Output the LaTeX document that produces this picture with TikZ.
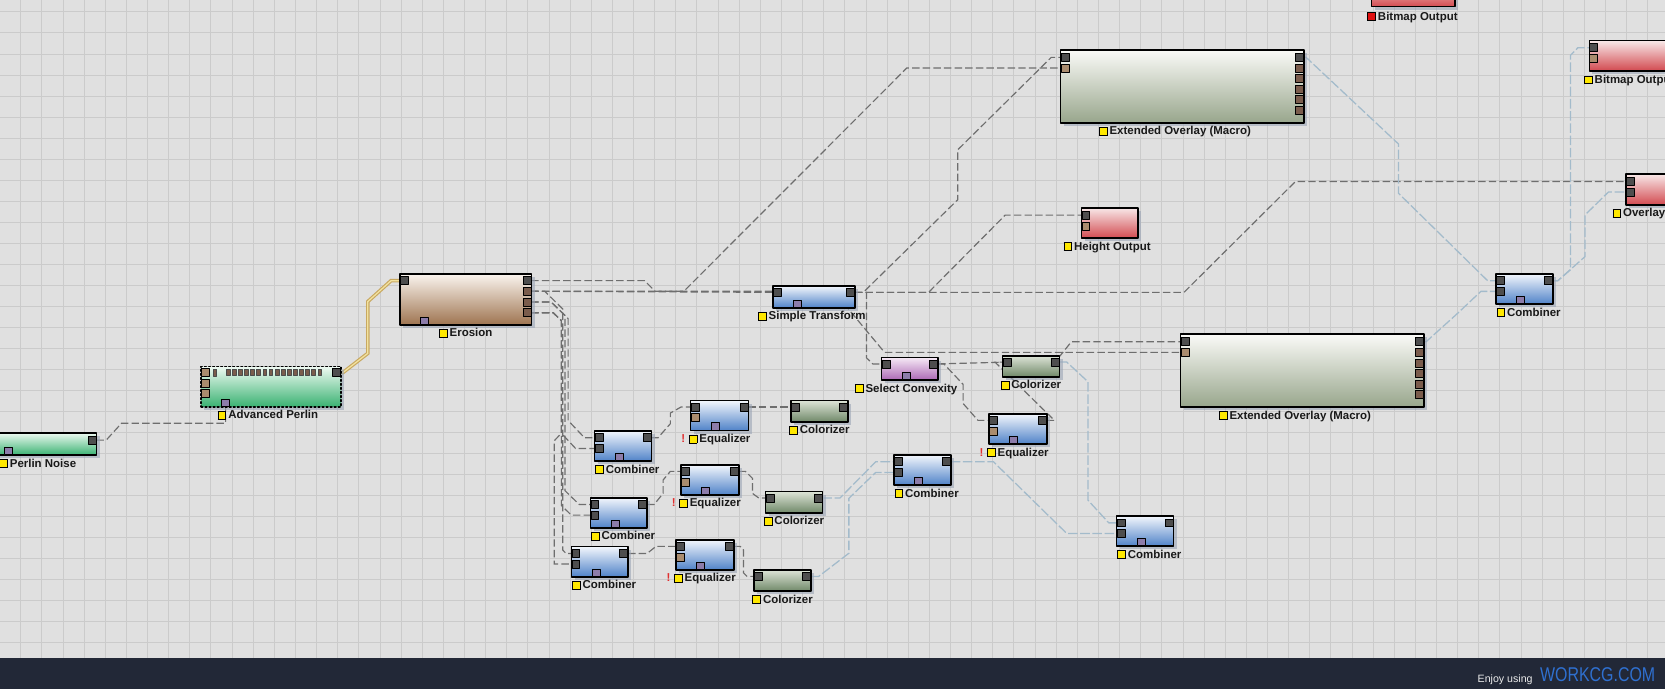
\documentclass[tikz,border=0pt]{standalone}
\usepackage{fontspec}
\setmainfont{Liberation Sans}
\usetikzlibrary{calc,shadows}

\definecolor{canvas}{HTML}{E0E0E0}
\definecolor{gridline}{HTML}{CBCBCB}
\definecolor{barblue}{HTML}{222837}
\definecolor{wiregray}{HTML}{6E6E6E}
\definecolor{wireblue}{HTML}{A3BBCB}
\definecolor{wiretan}{HTML}{C8A860}
\definecolor{wireyellow}{HTML}{F2E2A0}
\definecolor{bluetop}{HTML}{F2F6FC}
\definecolor{bluebot}{HTML}{4F82C8}
\definecolor{sagetop}{HTML}{DCE3D6}
\definecolor{sagebot}{HTML}{6F8868}
\definecolor{macrotop}{HTML}{FAFAF7}
\definecolor{macrobot}{HTML}{98A68C}
\definecolor{redtop}{HTML}{F8E8E8}
\definecolor{redbot}{HTML}{D24A50}
\definecolor{browntop}{HTML}{FAF4EE}
\definecolor{brownbot}{HTML}{9E7450}
\definecolor{mauvetop}{HTML}{F6EAF6}
\definecolor{mauvebot}{HTML}{AC68B4}
\definecolor{greentop}{HTML}{EEFAF2}
\definecolor{greenbot}{HTML}{3AB272}
\definecolor{portdark}{HTML}{4E4E4E}
\definecolor{portbrown}{HTML}{7A5C4C}
\definecolor{porttan}{HTML}{AA8C6E}
\definecolor{portmauve}{HTML}{8C7CAA}
\definecolor{lblyellow}{HTML}{FFE800}
\definecolor{lblred}{HTML}{E01010}
\definecolor{warnred}{HTML}{E03030}
\definecolor{shadowc}{HTML}{9AA4B6}
\definecolor{webblue}{HTML}{2F70D0}

\pgfdeclarelayer{grid}
\pgfdeclarelayer{wires}
\pgfsetlayers{grid,wires,main}

% ports and captions of a block
\newcommand{\inport}[4]{\node[port, fill=#4] (#1-#2) at ($(#1.north west)+(4.2,#3)$) {};}
\newcommand{\outport}[4]{\node[port, fill=#4] (#1-#2) at ($(#1.north east)+(-4.2,#3)$) {};}
\newcommand{\botport}[2]{\node[bport] (#1-b) at ($(#1.south west)+(#2,0)$) {};}
\newcommand{\ysq}[1]{{\setlength{\fboxsep}{0pt}\setlength{\fboxrule}{0.9pt}\fcolorbox{black}{#1}{\rule{0pt}{6.6pt}\rule{6.4pt}{0pt}}}}
\newcommand{\nlabel}[3][0]{\node[lbl] (#2-l) at ($(#2.south)+(#1,3.3)$) {\ysq{lblyellow}\,#3};}
\newcommand{\warn}[1]{\node[anchor=base east, inner sep=0pt, text=warnred, font=\bfseries\fontsize{10.8}{13}\selectfont] at ($(#1-l.base west)+(-3,0)$) {!};}

\begin{document}
\begin{tikzpicture}[x=1pt, y=-1pt, line cap=round, line join=round,
    box/.style={draw=black, line width=1.5pt, inner sep=0pt, outer sep=0pt, anchor=north west,
      drop shadow={shadow xshift=3pt, shadow yshift=-3pt, fill=shadowc, opacity=0.6}},
    bluebox/.style={box, top color=bluetop, bottom color=bluebot},
    sagebox/.style={box, top color=sagetop, bottom color=sagebot},
    macrobox/.style={box, top color=macrotop, bottom color=macrobot},
    redbox/.style={box, top color=redtop, bottom color=redbot},
    brownbox/.style={box, top color=browntop, bottom color=brownbot},
    mauvebox/.style={box, top color=mauvetop, bottom color=mauvebot},
    greenbox/.style={box, top color=greentop, bottom color=greenbot},
    selbox/.style={dash pattern=on 1.6pt off 2.2pt},
    port/.style={draw=black, line width=0.7pt, inner sep=0pt, minimum size=7.5pt},
    bport/.style={port, fill=portmauve, anchor=south west, minimum height=7pt},
    lbl/.style={inner sep=0pt, anchor=north, text=black!90, font=\bfseries\fontsize{10.8}{13}\selectfont},
    wire/.style={draw=wiregray, line width=1.1pt, dash pattern=on 7pt off 3pt},
    cwire/.style={draw=wireblue, line width=1.2pt, dash pattern=on 9pt off 2.5pt}]

  \useasboundingbox (0,0) rectangle (1568,649);

  \begin{pgfonlayer}{grid}
    \fill[canvas] (0,0) rectangle (1568,649);
    \foreach \i in {0,...,79}
      \draw[gridline, line width=0.8pt] ({\i*19.9-0.4},0) -- ({\i*19.9-0.4},620);
    \foreach \j in {0,...,31}
      \draw[gridline, line width=0.8pt] (0,{11.2+\j*19.8}) -- (1568,{11.2+\j*19.8});
  \end{pgfonlayer}

  % sources
  \node[greenbox, minimum width=111pt, minimum height=21pt] (perlin) at (-20,407.5) {};
  \outport{perlin}{out1}{7}{portdark}
  \botport{perlin}{23.4}
  \nlabel{perlin}{Perlin Noise}

  \node[greenbox, selbox, minimum width=131.8pt, minimum height=37.7pt] (advperlin) at (189.4,345.3) {};
  \fill[portbrown, draw=black!70, line width=0.3pt] ($(advperlin.north west)+(11.5,2.2)$) rectangle +(3,6.5);
  \foreach \k in {0,...,15}
    \fill[portbrown, draw=black!70, line width=0.3pt] ($(advperlin.north west)+({23.5+\k*5.75},2.2)$) rectangle +(3.6,5.5);
  \inport{advperlin}{in1}{5.7}{porttan}
  \inport{advperlin}{in2}{15.7}{porttan}
  \inport{advperlin}{in3}{25.1}{porttan}
  \outport{advperlin}{out1}{5.5}{portdark}
  \botport{advperlin}{19}
  \nlabel[-3]{advperlin}{Advanced Perlin}

  \node[brownbox, minimum width=123.7pt, minimum height=48pt] (erosion) at (376.7,258) {};
  \inport{erosion}{in1}{6.3}{portdark}
  \outport{erosion}{out1}{6.3}{portdark}
  \outport{erosion}{out2}{16.3}{portbrown}
  \outport{erosion}{out3}{26.4}{portbrown}
  \outport{erosion}{out4}{36.5}{portbrown}
  \botport{erosion}{18.5}
  \nlabel{erosion}{Erosion}

  \node[bluebox, minimum width=77.4pt, minimum height=20.5pt] (simtrans) at (727.8,269.3) {};
  \inport{simtrans}{in1}{6}{portdark}
  \outport{simtrans}{out1}{6}{portdark}
  \botport{simtrans}{19}
  \nlabel[-2]{simtrans}{Simple Transform}

  \node[mauvebox, minimum width=53.3pt, minimum height=21.4pt] (selconv) at (830.3,336.5) {};
  \inport{selconv}{in1}{6.3}{portdark}
  \outport{selconv}{out1}{6.3}{portdark}
  \botport{selconv}{19}
  \nlabel[-3.6]{selconv}{Select Convexity}

  \foreach \n/\x/\y in {comb1/560/405.9, comb2/556/468.7, comb3/538.1/514.8,
                        combM/841.9/428.5, combB/1051.6/486, combR/1408.8/258}{
    \node[bluebox, minimum width=53.5pt, minimum height=28.4pt] (\n) at (\x,\y) {};
    \inport{\n}{in1}{6.4}{portdark}
    \inport{\n}{in2}{16.4}{portdark}
    \outport{\n}{out1}{6.4}{portdark}
    \botport{\n}{19}
    \nlabel[4]{\n}{Combiner}
  }

  \foreach \n/\x/\y in {eq1/650.4/377.3, eq2/641.4/437.9, eq3/636.6/508.5, eqT/931.3/389.9}{
    \node[bluebox, minimum width=54.5pt, minimum height=28.2pt] (\n) at (\x,\y) {};
    \inport{\n}{in1}{6}{portdark}
    \inport{\n}{in2}{16}{porttan}
    \outport{\n}{out1}{6}{portdark}
    \botport{\n}{19}
    \nlabel{\n}{Equalizer}
    \warn{\n}
  }

  \foreach \n/\x/\y in {col1/744.9/377.3, col2/721/463, col3/710.3/536.8, colT/944.2/335}{
    \node[sagebox, minimum width=53.5pt, minimum height=20pt] (\n) at (\x,\y) {};
    \inport{\n}{in1}{6}{portdark}
    \outport{\n}{out1}{6}{portdark}
    \nlabel{\n}{Colorizer}
  }

  \foreach \n/\x/\y in {xov1/998.8/47, xov2/1111.8/314.8}{
    \node[macrobox, minimum width=229.4pt, minimum height=68.6pt] (\n) at (\x,\y) {};
    \inport{\n}{in1}{7}{portdark}
    \inport{\n}{in2}{17}{porttan}
    \outport{\n}{out1}{7}{portdark}
    \foreach \k in {2,...,6}{
      \outport{\n}{out\k}{\k*10-3}{portbrown}
    }
    \nlabel[-7]{\n}{Extended Overlay (Macro)}
  }

  % outputs
  \node[redbox, minimum width=53.1pt, minimum height=28.8pt] (height) at (1018.4,195.6) {};
  \inport{height}{in1}{7}{portdark}
  \inport{height}{in2}{17.5}{porttan}
  \nlabel[-2.4]{height}{Height Output}

  \node[redbox, minimum width=78.3pt, minimum height=26.3pt] (bmpT) at (1291.7,-20) {};
  \node[lbl, anchor=north west] (bmpT-l) at (1287.5,11) {\ysq{lblred}\,Bitmap Output};

  \node[redbox, minimum width=100pt, minimum height=28.3pt] (bmpR) at (1496.7,38.3) {};
  \inport{bmpR}{in1}{6.6}{portdark}
  \inport{bmpR}{in2}{16.6}{porttan}
  \node[lbl, anchor=north west] (bmpR-l) at (1491.6,70.6) {\ysq{lblyellow}\,Bitmap Output};

  \node[redbox, minimum width=80pt, minimum height=29.1pt] (overlay) at (1531,163.9) {};
  \inport{overlay}{in1}{7}{portdark}
  \inport{overlay}{in2}{17}{portdark}
  \node[lbl, anchor=north west] (overlay-l) at (1518.4,196) {\ysq{lblyellow}\,Overlay};

  \begin{pgfonlayer}{wires}
    \draw[wire] (perlin-out1) -- (100,414.5) -- (114.4,398.6) -| (advperlin-b);
    \draw[draw=wiretan, double=wireyellow, double distance=1.2pt, line width=1.1pt]
      (advperlin-out1) -- (323,350.8) -- (346.4,332.7) -- (346.4,284) -- (368.3,264.3) -- (erosion-in1);

    \draw[wire] (erosion-out1) -- (607,264.3) -- (617,274.3) -- (644,274.3) -- (854,64) -- (xov1-in2);
    \draw[wire] (erosion-out2) -- (simtrans-in1);
    \draw[wire] (erosion-out2) -- (785,274.3) -- (833,331.8) -- (xov2-in2);

    % down to the combiners
    \draw[wire] (erosion-out3) -- (519,284.4) -- (535,300) -- (535,396) -- (550.5,412.3) -- (comb1-in1);
    \draw[wire] (erosion-out4) -- (521,294.5) -- (528.7,302) -- (528.7,408) -- (542,422.3) -- (comb1-in2);
    \draw[wire] (erosion-out3) -- (519,284.4) -- (532,297) -- (532,462) -- (545.5,475.1) -- (comb2-in1);
    \draw[wire] (erosion-out4) -- (521,294.5) -- (528.7,302) -- (528.7,476) -- (538,485.1) -- (comb2-in2);
    \draw[wire] (erosion-out2) -- (513,274.3) -- (530,291) -- (530,518) -- (533,521.2) -- (comb3-in1);
    \draw[wire] (erosion-out4) -- (521,294.5) -- (528.7,302) -- (528.7,408) -- (522,415) -- (522,531.2) -- (comb3-in2);

    \draw[wire] (comb1-out1) -- (619.6,412.3) -- (631.3,399) -- (631.3,389) -- (641.3,383.3) -- (eq1-in1);
    \draw[wire] (comb2-out1) -- (616,475.1) -- (624.5,464.6) -- (624.5,452) -- (631.3,443.9) -- (eq2-in1);
    \draw[wire] (comb3-out1) -- (609.4,521.2) -- (617.8,514.5) -- (eq3-in1);

    \draw[wire] (eq1-out1) -- (col1-in1);
    \draw[wire] (eq2-out1) -- (702,443.9) -- (708.6,450.4) -- (708.6,464.6) -- (714.6,469) -- (col2-in1);
    \draw[wire] (eq3-out1) -- (697,514.5) -- (700.2,518) -- (700.2,539.5) -- (703.5,542.8) -- (col3-in1);

    \draw[wire] (simtrans-out1) -- (813,275.3) -- (902,188) -- (902,141) -- (990,54) -- (xov1-in1);
    \draw[wire] (simtrans-out1) -- (874.5,275.3) -- (946.6,202.6) -- (height-in1);
    \draw[wire] (simtrans-out1) -- (1115,275.3) -- (1220,170.9) -- (overlay-in1);
    \draw[wire] (simtrans-out1) -- (816,275.3) -- (816,337) -- (822,342.8) -- (selconv-in1);

    \draw[wire] (selconv-out1) -- (colT-in1);
    \draw[wire] (selconv-out1) -- (889,342.8) -- (907,362) -- (907,380) -- (921,395.9) -- (eqT-in1);
    \draw[wire] (eqT-out1) -- (993,395.9) -- (937,341) -- (colT-in1);
    \draw[wire] (colT-out1) -- (1000,333) -- (1009,321.8) -- (xov2-in1);

    % colour links
    \draw[cwire] (col2-out1) -- (791,469) -- (824.7,434.9) -- (combM-in1);
    \draw[cwire] (col3-out1) -- (771,542.8) -- (799.4,521) -- (799.4,469.3) -- (824.7,444.9) -- (combM-in2);
    \draw[cwire] (combM-out1) -- (935.6,434.9) -- (1004.6,502.4) -- (combB-in2);
    \draw[cwire] (colT-out1) -- (1004.6,341) -- (1024.5,359.4) -- (1024.5,471) -- (1044.2,492.4) -- (combB-in1);
    \draw[cwire] (xov1-out1) -- (1230,54) -- (1317,135.6) -- (1317,182) -- (1401,264.4) -- (combR-in1);
    \draw[cwire] (xov2-out1) -- (1343,321.8) -- (1371,296.6) -- (1394.6,274.4) -- (combR-in2);
    \draw[cwire] (combR-out1) -- (1467,264.4) -- (1479,254) -- (1479,52) -- (1486,44.9) -- (bmpR-in1);
    \draw[cwire] (combR-out1) -- (1467,264.4) -- (1492.6,241.7) -- (1492.6,202.5) -- (1514.6,180.9) -- (overlay-in2);
  \end{pgfonlayer}

  % status bar
  \fill[barblue] (0,620) rectangle (1568,649);
  \node[anchor=base west, inner sep=0pt, text=white!92!black, font=\fontsize{10}{12}\selectfont] (enjoy) at (1391.4,643) {Enjoy using};
  \node[anchor=base west, inner sep=0pt, text=webblue, font=\fontsize{15}{18}\selectfont] (site) at (1450.2,642) {\scalebox{1}[1.25]{WORKCG.COM}};

\end{tikzpicture}
\end{document}
